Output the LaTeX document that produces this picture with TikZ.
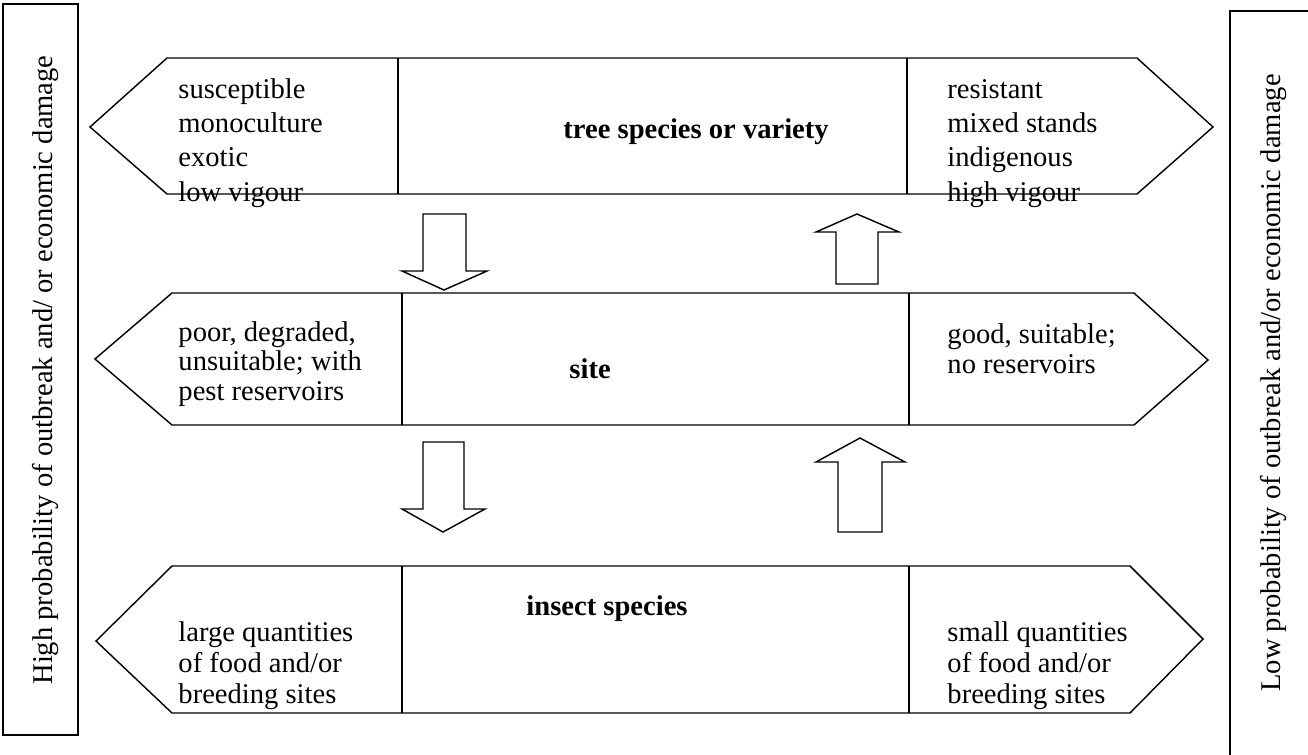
\documentclass[tikz,border=0pt]{standalone}
\usepackage{fontspec}
\setmainfont{Liberation Serif}
\begin{document}
\begin{tikzpicture}[x=0.42pt,y=-0.42pt,
  shapeline/.style={draw=black,line width=0.6pt,line join=miter},
  blockarrow/.style={draw=black,line width=0.6pt,fill=white,line join=miter},
  sidetext/.style={font=\fontsize{12pt}{13.8pt}\selectfont,align=left,anchor=base west,inner sep=0pt},
  titletext/.style={font=\fontsize{12pt}{13.8pt}\selectfont\bfseries,anchor=base west,inner sep=0pt},
  vlabel/.style={font=\fontsize{12pt}{13.8pt}\selectfont,rotate=90,anchor=base,inner sep=0pt}]
\useasboundingbox (0,0) rectangle (1308,754);
\clip (0,0) rectangle (1308,754);
\fill[white] (0,0) rectangle (1308,754);

% side boxes
\draw[shapeline] (3,4) rectangle (78,735);
\draw[shapeline] (1230,11) rectangle (1340,790);
\node[vlabel] (high) at (52,370) {High probability of outbreak and/ or economic damage};
\node[vlabel] (low) at (1280,383) {Low probability of outbreak and/or economic damage};

% top row
\node[sidetext,font=\fontsize{12pt}{14.3pt}\selectfont] (tl) at (178,201) {susceptible\\monoculture\\exotic\\low vigour};
\node[sidetext,font=\fontsize{12pt}{14.3pt}\selectfont] (tr) at (947,201) {resistant\\mixed stands\\indigenous\\high vigour};
\node[titletext] (tree) at (563,138) {tree species or variety};
\draw[shapeline] (90,127) -- (167,58) -- (1137,58) -- (1213,127) -- (1137,194) -- (167,194) -- cycle;
\draw[shapeline] (398,58) -- (398,194);
\draw[shapeline] (907,58) -- (907,194);

% middle row
\draw[shapeline] (95,359) -- (172,293) -- (1134,293) -- (1208,360) -- (1134,425) -- (172,425) -- cycle;
\draw[shapeline] (402,293) -- (402,425);
\draw[shapeline] (909,293) -- (909,425);
\node[sidetext,font=\fontsize{12pt}{12.2pt}\selectfont] (ml) at (178,400) {poor, degraded,\\unsuitable; with\\pest reservoirs};
\node[sidetext,font=\fontsize{12pt}{12.2pt}\selectfont] (mr) at (947,373) {good, suitable;\\no reservoirs};
\node[titletext] (site) at (569,378) {site};

% bottom row
\draw[shapeline] (96,641) -- (172,566) -- (1130,566) -- (1203,639) -- (1130,713) -- (172,713) -- cycle;
\draw[shapeline] (402,566) -- (402,713);
\draw[shapeline] (909,566) -- (909,713);
\node[sidetext,font=\fontsize{12pt}{13pt}\selectfont] (bl) at (178,703) {large quantities\\of food and/or\\breeding sites};
\node[sidetext,font=\fontsize{12pt}{13pt}\selectfont] (br) at (947,703) {small quantities\\of food and/or\\breeding sites};
\node[titletext] (insect) at (526,615) {insect species};

% block arrows
\draw[blockarrow] (423,214) -- (466,214) -- (466,271) -- (487,271) -- (444,290) -- (402,271) -- (423,271) -- cycle;
\draw[blockarrow] (857,214) -- (899,232) -- (878,232) -- (878,284) -- (836,284) -- (836,232) -- (816,232) -- cycle;
\draw[blockarrow] (423,442) -- (464,442) -- (464,509) -- (485,509) -- (443,532) -- (402,509) -- (423,509) -- cycle;
\draw[blockarrow] (860,438) -- (905,462) -- (882,462) -- (882,532) -- (838,532) -- (838,462) -- (816,462) -- cycle;
\end{tikzpicture}
\end{document}
